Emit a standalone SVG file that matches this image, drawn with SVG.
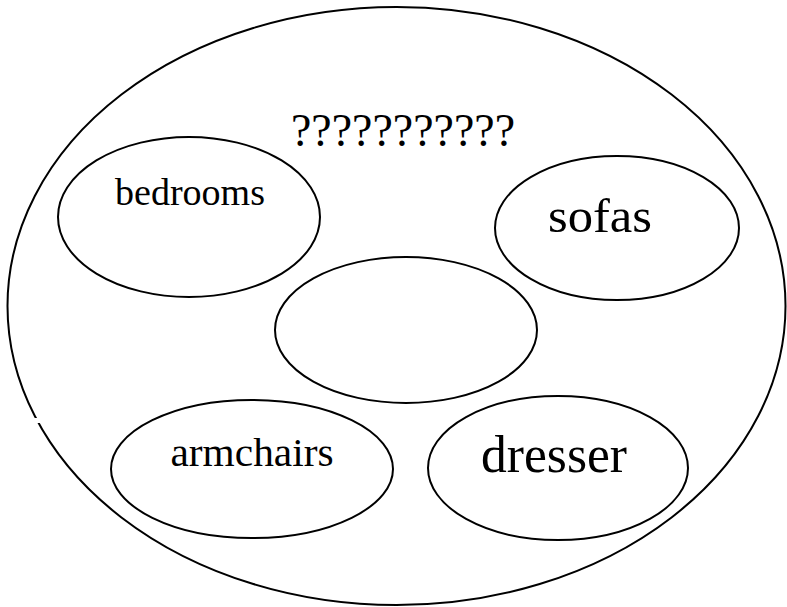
<svg xmlns="http://www.w3.org/2000/svg" width="787" height="607" viewBox="0 0 787 607">
<style>
.e{fill:none;stroke:#000;stroke-width:2}
.t{font-family:"Liberation Serif","Times New Roman",serif;fill:#000;text-anchor:middle}
</style>
<rect width="787" height="607" fill="#fff"/>
<g id="outer">
<ellipse class="e" cx="396.5" cy="306" rx="389" ry="299"/>
<rect x="33" y="418" width="10" height="5" fill="#fff"/>
<text class="t" x="403" y="146" font-size="46" textLength="224" lengthAdjust="spacingAndGlyphs">???????????</text>
</g>
<g id="bedrooms">
<ellipse class="e" cx="189" cy="217" rx="131" ry="80"/>
<text class="t" x="190" y="205" font-size="38" textLength="150" lengthAdjust="spacingAndGlyphs">bedrooms</text>
</g>
<g id="sofas">
<ellipse class="e" cx="617" cy="228" rx="122" ry="72"/>
<text class="t" x="600" y="232" font-size="48" textLength="104" lengthAdjust="spacingAndGlyphs">sofas</text>
</g>
<g id="center">
<ellipse class="e" cx="406" cy="330" rx="131" ry="73"/>
</g>
<g id="armchairs">
<ellipse class="e" cx="252" cy="469" rx="141" ry="69"/>
<text class="t" x="252" y="466" font-size="40" textLength="163" lengthAdjust="spacingAndGlyphs">armchairs</text>
</g>
<g id="dresser">
<ellipse class="e" cx="558" cy="468" rx="130" ry="72"/>
<text class="t" x="554" y="472" font-size="52" textLength="146" lengthAdjust="spacingAndGlyphs">dresser</text>
</g>
<g id="connectors"></g>
</svg>
